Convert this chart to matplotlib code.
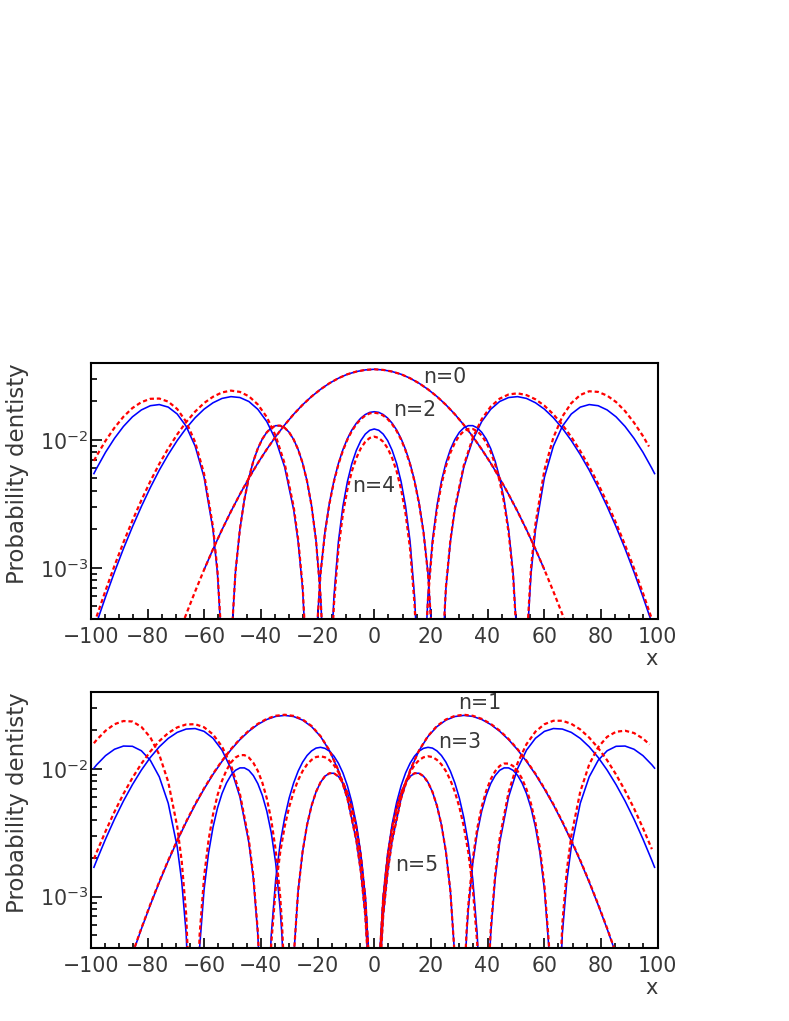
import numpy as np
import matplotlib
matplotlib.use("Agg")
import matplotlib.pyplot as plt
from matplotlib.ticker import MultipleLocator, LogLocator, NullFormatter, FixedFormatter, FixedLocator

# curves: (x, log10 of probability density)
n0_blue = [(-60.0,-3.011),(-56.92,-2.854),(-53.75,-2.702),(-50.59,-2.559),(-47.43,-2.425),(-44.27,-2.299),(-41.11,-2.181),(-37.94,-2.073),(-34.78,-1.973),(-31.62,-1.882),(-28.46,-1.799),(-25.30,-1.725),(-22.13,-1.660),(-18.97,-1.604),(-15.81,-1.556),(-12.65,-1.517),(-9.49,-1.486),(-6.32,-1.465),(-3.16,-1.452),(0.0,-1.447),(3.16,-1.452),(6.32,-1.465),(9.49,-1.486),(12.65,-1.517),(15.81,-1.556),(18.97,-1.604),(22.13,-1.660),(25.30,-1.725),(28.46,-1.799),(31.62,-1.882),(34.78,-1.973),(37.94,-2.073),(41.11,-2.181),(44.27,-2.299),(47.43,-2.425),(50.59,-2.559),(53.75,-2.702),(56.92,-2.854),(60.0,-3.011)]
n0_red = [(-69.56,-3.549),(-66.40,-3.363),(-63.24,-3.185),(-60.08,-3.015),(-56.92,-2.854),(-53.75,-2.702),(-50.59,-2.559),(-47.43,-2.425),(-44.27,-2.299),(-41.11,-2.181),(-37.94,-2.073),(-34.78,-1.973),(-31.62,-1.882),(-28.46,-1.799),(-25.30,-1.725),(-22.13,-1.660),(-18.97,-1.604),(-15.81,-1.556),(-12.65,-1.517),(-9.49,-1.486),(-6.32,-1.465),(-3.16,-1.452),(0.0,-1.447),(3.16,-1.452),(6.32,-1.465),(9.49,-1.486),(12.65,-1.517),(15.81,-1.556),(18.97,-1.604),(22.13,-1.660),(25.30,-1.725),(28.46,-1.799),(31.62,-1.882),(34.78,-1.973),(37.94,-2.073),(41.11,-2.181),(44.27,-2.299),(47.43,-2.425),(50.59,-2.559),(53.75,-2.702),(56.92,-2.854),(60.08,-3.015),(63.24,-3.185),(66.40,-3.363),(69.56,-3.549)]

n2_blue = [(-98.02,-3.431),(-94.86,-3.227),(-91.70,-3.033),(-88.54,-2.850),(-85.37,-2.679),(-82.21,-2.520),(-79.05,-2.372),(-75.89,-2.236),(-72.73,-2.114),(-69.56,-2.004),(-66.40,-1.908),(-63.24,-1.826),(-60.08,-1.759),(-56.92,-1.709),(-53.75,-1.675),(-50.59,-1.661),(-47.43,-1.668),(-44.27,-1.699),(-41.11,-1.760),(-37.94,-1.856),(-34.78,-2.000),(-31.62,-2.213),(-28.46,-2.546),(-26.88,-2.796),(-25.30,-3.163),(-23.72,-3.829),
           (-20.55,-3.582),(-18.97,-3.041),(-17.39,-2.717),(-15.81,-2.490),(-14.23,-2.318),(-12.65,-2.183),(-11.07,-2.076),(-9.49,-1.990),(-7.91,-1.922),(-6.32,-1.869),(-4.74,-1.829),(-3.16,-1.801),(-1.58,-1.784),(0.0,-1.779),(1.58,-1.784),(3.16,-1.801),(4.74,-1.829),(6.32,-1.869),(7.91,-1.922),(9.49,-1.990),(11.07,-2.076),(12.65,-2.183),(14.23,-2.318),(15.81,-2.490),(17.39,-2.717),(18.97,-3.041),(20.55,-3.582),
           (23.72,-3.829),(25.30,-3.163),(26.88,-2.796),(28.46,-2.546),(31.62,-2.213),(34.78,-2.000),(37.94,-1.856),(41.11,-1.760),(44.27,-1.699),(47.43,-1.668),(50.59,-1.661),(53.75,-1.675),(56.92,-1.709),(60.08,-1.759),(63.24,-1.826),(66.40,-1.908),(69.56,-2.004),(72.73,-2.114),(75.89,-2.236),(79.05,-2.372),(82.21,-2.520),(85.37,-2.679),(88.54,-2.850),(91.70,-3.033),(94.86,-3.227),(98.02,-3.431)]
n2_red = [(-98.02,-3.381),(-94.86,-3.177),(-91.70,-2.983),(-88.54,-2.801),(-85.37,-2.630),(-82.21,-2.471),(-79.05,-2.323),(-75.89,-2.187),(-72.73,-2.066),(-69.56,-1.956),(-66.40,-1.860),(-63.24,-1.778),(-60.08,-1.711),(-56.92,-1.662),(-53.75,-1.628),(-50.59,-1.614),(-47.43,-1.624),(-44.27,-1.658),(-41.11,-1.722),(-37.94,-1.821),(-34.78,-1.969),(-31.62,-2.185),(-28.46,-2.521),(-26.88,-2.773),(-25.30,-3.141),(-23.72,-3.809),
          (-20.55,-3.590),(-18.97,-3.049),(-17.39,-2.725),(-15.81,-2.498),(-14.23,-2.326),(-12.65,-2.191),(-11.07,-2.084),(-9.49,-1.998),(-7.91,-1.930),(-6.32,-1.877),(-4.74,-1.837),(-3.16,-1.809),(-1.58,-1.792),(0.0,-1.787),(1.58,-1.792),(3.16,-1.809),(4.74,-1.837),(6.32,-1.877),(7.91,-1.930),(9.49,-1.998),(11.07,-2.084),(12.65,-2.191),(14.23,-2.326),(15.81,-2.498),(17.39,-2.725),(18.97,-3.049),(20.55,-3.590),
          (23.72,-3.819),(25.30,-3.152),(26.88,-2.784),(28.46,-2.533),(31.62,-2.198),(34.78,-1.983),(37.94,-1.837),(41.11,-1.739),(44.27,-1.677),(47.43,-1.644),(50.59,-1.635),(53.75,-1.649),(56.92,-1.682),(60.08,-1.732),(63.24,-1.799),(66.40,-1.881),(69.56,-1.976),(72.73,-2.086),(75.89,-2.208),(79.05,-2.343),(82.21,-2.491),(85.37,-2.650),(88.54,-2.821),(91.70,-3.003),(94.86,-3.197),(98.02,-3.401)]

n4_blue = [(-98.97,-2.263),(-98.02,-2.222),(-94.86,-2.096),(-91.70,-1.987),(-88.54,-1.894),(-85.37,-1.819),(-82.21,-1.765),(-79.05,-1.732),(-75.89,-1.723),(-72.73,-1.743),(-69.56,-1.797),(-66.40,-1.893),(-63.24,-2.048),(-60.08,-2.292),(-56.92,-2.704),(-55.34,-3.047),(-53.75,-3.648),
           (-50.59,-3.625),(-49.01,-3.036),(-47.43,-2.698),(-45.85,-2.466),(-44.27,-2.296),(-42.69,-2.166),(-41.11,-2.067),(-39.53,-1.993),(-37.94,-1.940),(-36.36,-1.905),(-34.78,-1.888),(-33.20,-1.888),(-31.62,-1.905),(-30.04,-1.940),(-28.46,-1.996),(-26.88,-2.074),(-25.30,-2.180),(-23.72,-2.322),(-22.13,-2.515),(-20.55,-2.788),(-18.97,-3.217),(-18.02,-3.653),
           (-15.18,-3.667),(-14.23,-3.225),(-12.65,-2.793),(-11.07,-2.519),(-9.49,-2.327),(-7.91,-2.185),(-6.32,-2.081),(-4.74,-2.005),(-3.16,-1.954),(-1.58,-1.924),(0.0,-1.914),(1.58,-1.924),(3.16,-1.954),(4.74,-2.005),(6.32,-2.081),(7.91,-2.185),(9.49,-2.327),(11.07,-2.519),(12.65,-2.793),(14.23,-3.225),(15.18,-3.667),
           (18.02,-3.653),(18.97,-3.217),(20.55,-2.788),(22.13,-2.515),(23.72,-2.322),(25.30,-2.180),(26.88,-2.074),(28.46,-1.996),(30.04,-1.940),(31.62,-1.905),(33.20,-1.888),(34.78,-1.888),(36.36,-1.905),(37.94,-1.940),(39.53,-1.993),(41.11,-2.067),(42.69,-2.166),(44.27,-2.296),(45.85,-2.466),(47.43,-2.698),(49.01,-3.036),(50.59,-3.625),
           (53.75,-3.648),(55.34,-3.047),(56.92,-2.704),(60.08,-2.292),(63.24,-2.048),(66.40,-1.893),(69.56,-1.797),(72.73,-1.743),(75.89,-1.723),(79.05,-1.732),(82.21,-1.765),(85.37,-1.819),(88.54,-1.894),(91.70,-1.987),(94.86,-2.096),(98.02,-2.222),(98.97,-2.263)]
n4_red = [(-98.97,-2.163),(-98.02,-2.124),(-94.86,-2.006),(-91.70,-1.904),(-88.54,-1.818),(-85.37,-1.750),(-82.21,-1.704),(-79.05,-1.678),(-75.89,-1.676),(-72.73,-1.700),(-69.56,-1.758),(-66.40,-1.858),(-63.24,-2.016),(-60.08,-2.264),(-56.92,-2.680),(-55.34,-3.025),(-53.75,-3.628),
          (-50.59,-3.625),(-49.01,-3.036),(-47.43,-2.698),(-45.85,-2.466),(-44.27,-2.296),(-42.69,-2.166),(-41.11,-2.067),(-39.53,-1.993),(-37.94,-1.940),(-36.36,-1.905),(-34.78,-1.888),(-33.20,-1.888),(-31.62,-1.905),(-30.04,-1.940),(-28.46,-1.996),(-26.88,-2.074),(-25.30,-2.180),(-23.72,-2.322),(-22.13,-2.515),(-20.55,-2.788),(-18.97,-3.217),(-18.02,-3.653),
          (-15.18,-3.727),(-14.23,-3.285),(-12.65,-2.853),(-11.07,-2.579),(-9.49,-2.387),(-7.91,-2.245),(-6.32,-2.141),(-4.74,-2.065),(-3.16,-2.014),(-1.58,-1.984),(0.0,-1.974),(1.58,-1.984),(3.16,-2.014),(4.74,-2.065),(6.32,-2.141),(7.91,-2.245),(9.49,-2.387),(11.07,-2.579),(12.65,-2.853),(14.23,-3.285),(15.18,-3.727),
          (18.02,-3.679),(18.97,-3.243),(20.55,-2.814),(22.13,-2.541),(23.72,-2.348),(25.30,-2.206),(26.88,-2.100),(28.46,-2.022),(30.04,-1.966),(31.62,-1.931),(33.20,-1.914),(34.78,-1.914),(36.36,-1.931),(37.94,-1.966),(39.53,-2.019),(41.11,-2.093),(42.69,-2.192),(44.27,-2.322),(45.85,-2.492),(47.43,-2.724),(49.01,-3.062),(50.59,-3.651),
          (53.75,-3.608),(55.34,-3.002),(56.92,-2.655),(60.08,-2.234),(63.24,-1.981),(66.40,-1.817),(69.56,-1.712),(72.73,-1.648),(75.89,-1.619),(79.05,-1.624),(82.21,-1.653),(85.37,-1.703),(88.54,-1.774),(91.70,-1.864),(94.86,-1.969),(97.0,-2.051)]

n1_blue = [(-85.37,-3.450),(-82.21,-3.252),(-79.05,-3.065),(-75.89,-2.887),(-72.73,-2.720),(-69.56,-2.563),(-66.40,-2.417),(-63.24,-2.281),(-60.08,-2.157),(-56.92,-2.043),(-53.75,-1.941),(-50.59,-1.850),(-47.43,-1.771),(-44.27,-1.705),(-41.11,-1.652),(-37.94,-1.613),(-34.78,-1.589),(-31.62,-1.581),(-28.46,-1.590),(-25.30,-1.618),(-22.13,-1.669),(-18.97,-1.746),(-15.81,-1.857),(-12.65,-2.012),(-9.49,-2.231),(-6.32,-2.562),(-4.74,-2.804),(-3.16,-3.151),(-1.58,-3.749),
           (1.58,-3.749),(3.16,-3.151),(4.74,-2.804),(6.32,-2.562),(9.49,-2.231),(12.65,-2.012),(15.81,-1.857),(18.97,-1.746),(22.13,-1.669),(25.30,-1.618),(28.46,-1.590),(31.62,-1.581),(34.78,-1.589),(37.94,-1.613),(41.11,-1.652),(44.27,-1.705),(47.43,-1.771),(50.59,-1.850),(53.75,-1.941),(56.92,-2.043),(60.08,-2.157),(63.24,-2.281),(66.40,-2.417),(69.56,-2.563),(72.73,-2.720),(75.89,-2.887),(79.05,-3.065),(82.21,-3.252),(85.37,-3.450)]
n1_red = [(-85.37,-3.445),(-82.21,-3.247),(-79.05,-3.060),(-75.89,-2.882),(-72.73,-2.715),(-69.56,-2.558),(-66.40,-2.412),(-63.24,-2.276),(-60.08,-2.152),(-56.92,-2.038),(-53.75,-1.936),(-50.59,-1.845),(-47.43,-1.766),(-44.27,-1.700),(-41.11,-1.647),(-37.94,-1.608),(-34.78,-1.584),(-31.62,-1.576),(-28.46,-1.585),(-25.30,-1.613),(-22.13,-1.664),(-18.97,-1.743),(-15.81,-1.855),(-12.65,-2.011),(-9.49,-2.231),(-6.32,-2.562),(-4.74,-2.804),(-3.16,-3.151),(-1.58,-3.749),
          (1.58,-3.749),(3.16,-3.151),(4.74,-2.804),(6.32,-2.562),(9.49,-2.231),(12.65,-2.011),(15.81,-1.855),(18.97,-1.743),(22.13,-1.664),(25.30,-1.613),(28.46,-1.585),(31.62,-1.576),(34.78,-1.584),(37.94,-1.608),(41.11,-1.647),(44.27,-1.700),(47.43,-1.766),(50.59,-1.845),(53.75,-1.936),(56.92,-2.038),(60.08,-2.152),(63.24,-2.276),(66.40,-2.412),(69.56,-2.558),(72.73,-2.715),(75.89,-2.882),(79.05,-3.060),(82.21,-3.247),(85.37,-3.445)]

n3_blue = [(-98.97,-2.770),(-98.02,-2.717),(-94.86,-2.549),(-91.70,-2.393),(-88.54,-2.251),(-85.37,-2.123),(-82.21,-2.009),(-79.05,-1.910),(-75.89,-1.827),(-72.73,-1.761),(-69.56,-1.714),(-66.40,-1.688),(-63.24,-1.684),(-60.08,-1.706),(-56.92,-1.760),(-53.75,-1.853),(-50.59,-1.998),(-47.43,-2.219),(-44.27,-2.578),(-42.69,-2.858),(-41.11,-3.293),(-40.16,-3.732),
           (-37.31,-3.742),(-36.36,-3.299),(-34.78,-2.863),(-33.20,-2.582),(-31.62,-2.381),(-30.04,-2.228),(-28.46,-2.110),(-26.88,-2.018),(-25.30,-1.947),(-23.72,-1.895),(-22.13,-1.859),(-20.55,-1.837),(-18.97,-1.831),(-17.39,-1.839),(-15.81,-1.861),(-14.23,-1.900),(-12.65,-1.956),(-11.07,-2.031),(-9.49,-2.131),(-7.91,-2.261),(-6.32,-2.431),(-4.74,-2.663),(-3.16,-3.003),(-1.58,-3.597),
           (1.58,-3.597),(3.16,-3.003),(4.74,-2.663),(6.32,-2.431),(7.91,-2.261),(9.49,-2.131),(11.07,-2.031),(12.65,-1.956),(14.23,-1.900),(15.81,-1.861),(17.39,-1.839),(18.97,-1.831),(20.55,-1.837),(22.13,-1.859),(23.72,-1.895),(25.30,-1.947),(26.88,-2.018),(28.46,-2.110),(30.04,-2.228),(31.62,-2.381),(33.20,-2.582),(34.78,-2.863),(36.36,-3.299),(37.31,-3.742),
           (40.16,-3.732),(41.11,-3.293),(42.69,-2.858),(44.27,-2.578),(47.43,-2.219),(50.59,-1.998),(53.75,-1.853),(56.92,-1.760),(60.08,-1.706),(63.24,-1.684),(66.40,-1.688),(69.56,-1.714),(72.73,-1.761),(75.89,-1.827),(79.05,-1.910),(82.21,-2.009),(85.37,-2.123),(88.54,-2.251),(91.70,-2.393),(94.86,-2.549),(98.02,-2.717),(98.97,-2.770)]
n3_red = [(-98.97,-2.705),(-98.02,-2.653),(-94.86,-2.488),(-91.70,-2.335),(-88.54,-2.195),(-85.37,-2.070),(-82.21,-1.959),(-79.05,-1.863),(-75.89,-1.782),(-72.73,-1.719),(-69.56,-1.675),(-66.40,-1.652),(-63.24,-1.650),(-60.08,-1.674),(-56.92,-1.730),(-53.75,-1.825),(-50.59,-1.971),(-47.43,-2.194),(-44.27,-2.555),(-42.69,-2.836),(-41.11,-3.272),(-40.16,-3.712),
          (-37.31,-3.812),(-36.36,-3.369),(-34.78,-2.933),(-33.20,-2.652),(-31.62,-2.451),(-30.04,-2.298),(-28.46,-2.180),(-26.88,-2.088),(-25.30,-2.017),(-23.72,-1.965),(-22.13,-1.929),(-20.55,-1.907),(-18.97,-1.901),(-17.39,-1.909),(-15.81,-1.931),(-14.23,-1.970),(-12.65,-2.026),(-11.07,-2.101),(-9.49,-2.201),(-7.91,-2.331),(-6.32,-2.501),(-4.74,-2.733),(-3.16,-3.073),(-1.58,-3.667),
          (1.58,-3.667),(3.16,-3.073),(4.74,-2.733),(6.32,-2.501),(7.91,-2.331),(9.49,-2.201),(11.07,-2.101),(12.65,-2.026),(14.23,-1.970),(15.81,-1.931),(17.39,-1.909),(18.97,-1.901),(20.55,-1.907),(22.13,-1.929),(23.72,-1.965),(25.30,-2.017),(26.88,-2.088),(28.46,-2.180),(30.04,-2.298),(31.62,-2.451),(33.20,-2.652),(34.78,-2.933),(36.36,-3.369),(37.31,-3.812),
          (40.16,-3.702),(41.11,-3.262),(42.69,-2.826),(44.27,-2.544),(47.43,-2.181),(50.59,-1.955),(53.75,-1.806),(56.92,-1.708),(60.08,-1.650),(63.24,-1.623),(66.40,-1.623),(69.56,-1.647),(72.73,-1.691),(75.89,-1.755),(79.05,-1.836),(82.21,-1.932),(85.37,-2.044),(88.54,-2.170),(91.70,-2.309),(94.86,-2.463),(98.02,-2.628)]

n5_blue = [(-98.97,-1.994),(-98.02,-1.968),(-94.86,-1.896),(-91.70,-1.846),(-88.54,-1.821),(-85.37,-1.823),(-82.21,-1.858),(-79.05,-1.933),(-75.89,-2.062),(-72.73,-2.269),(-69.56,-2.611),(-67.98,-2.879),(-66.40,-3.291),(-64.82,-4.141),
           (-63.24,-4.480),(-61.66,-3.402),(-60.08,-2.945),(-58.50,-2.658),(-56.92,-2.456),(-55.34,-2.306),(-53.75,-2.193),(-52.17,-2.110),(-50.59,-2.050),(-49.01,-2.011),(-47.43,-1.992),(-45.85,-1.992),(-44.27,-2.011),(-42.69,-2.052),(-41.11,-2.115),(-39.53,-2.206),(-37.94,-2.330),(-36.36,-2.500),(-34.78,-2.739),(-33.20,-3.101),(-32.57,-3.311),(-31.62,-3.779),
           (-28.46,-3.481),(-26.88,-2.957),(-25.30,-2.648),(-23.72,-2.438),(-22.13,-2.288),(-20.55,-2.180),(-18.97,-2.105),(-17.39,-2.057),(-15.81,-2.034),(-14.23,-2.034),(-12.65,-2.059),(-11.07,-2.108),(-9.49,-2.186),(-7.91,-2.298),(-6.32,-2.455),(-4.74,-2.676),(-3.16,-3.008),(-1.58,-3.599),
           (1.58,-3.599),(3.16,-3.008),(4.74,-2.676),(6.32,-2.455),(7.91,-2.298),(9.49,-2.186),(11.07,-2.108),(12.65,-2.059),(14.23,-2.034),(15.81,-2.034),(17.39,-2.057),(18.97,-2.105),(20.55,-2.180),(22.13,-2.288),(23.72,-2.438),(25.30,-2.648),(26.88,-2.957),(28.46,-3.481),
           (31.62,-3.779),(32.57,-3.311),(33.20,-3.101),(34.78,-2.739),(36.36,-2.500),(37.94,-2.330),(39.53,-2.206),(41.11,-2.115),(42.69,-2.052),(44.27,-2.011),(45.85,-1.992),(47.43,-1.992),(49.01,-2.011),(50.59,-2.050),(52.17,-2.110),(53.75,-2.193),(55.34,-2.306),(56.92,-2.456),(58.50,-2.658),(60.08,-2.945),(61.66,-3.402),(63.24,-4.480),
           (64.82,-4.141),(66.40,-3.291),(67.98,-2.879),(69.56,-2.611),(72.73,-2.269),(75.89,-2.062),(79.05,-1.933),(82.21,-1.858),(85.37,-1.823),(88.54,-1.821),(91.70,-1.846),(94.86,-1.896),(98.02,-1.968),(98.97,-1.994)]
n5_red = [(-98.97,-1.799),(-98.02,-1.773),(-94.86,-1.701),(-91.70,-1.650),(-88.54,-1.625),(-85.37,-1.629),(-82.21,-1.671),(-79.05,-1.753),(-75.89,-1.889),(-72.73,-2.102),(-69.56,-2.451),(-67.98,-2.722),(-66.40,-3.138),(-64.82,-3.991),
          (-63.24,-4.380),(-61.66,-3.302),(-60.08,-2.845),(-58.50,-2.558),(-56.92,-2.356),(-55.34,-2.206),(-53.75,-2.093),(-52.17,-2.010),(-50.59,-1.950),(-49.01,-1.911),(-47.43,-1.892),(-45.85,-1.892),(-44.27,-1.911),(-42.69,-1.952),(-41.11,-2.015),(-39.53,-2.106),(-37.94,-2.230),(-36.36,-2.400),(-34.78,-2.639),(-33.20,-3.001),(-32.57,-3.211),(-31.62,-3.679),
          (-28.46,-3.481),(-26.88,-2.957),(-25.30,-2.648),(-23.72,-2.438),(-22.13,-2.288),(-20.55,-2.180),(-18.97,-2.105),(-17.39,-2.057),(-15.81,-2.034),(-14.23,-2.034),(-12.65,-2.059),(-11.07,-2.108),(-9.49,-2.186),(-7.91,-2.298),(-6.32,-2.455),(-4.74,-2.676),(-3.16,-3.008),(-1.58,-3.599),
          (1.58,-3.599),(3.16,-3.008),(4.74,-2.676),(6.32,-2.455),(7.91,-2.298),(9.49,-2.186),(11.07,-2.108),(12.65,-2.059),(14.23,-2.034),(15.81,-2.034),(17.39,-2.057),(18.97,-2.105),(20.55,-2.180),(22.13,-2.288),(23.72,-2.438),(25.30,-2.648),(26.88,-2.957),(28.46,-3.481),
          (31.62,-3.745),(32.57,-3.277),(33.20,-3.067),(34.78,-2.705),(36.36,-2.466),(37.94,-2.296),(39.53,-2.172),(41.11,-2.081),(42.69,-2.018),(44.27,-1.977),(45.85,-1.958),(47.43,-1.958),(49.01,-1.977),(50.59,-2.016),(52.17,-2.076),(53.75,-2.159),(55.34,-2.272),(56.92,-2.422),(58.50,-2.624),(60.08,-2.911),(61.66,-3.368),(63.24,-4.446),
          (64.82,-4.061),(66.40,-3.211),(67.98,-2.796),(69.56,-2.525),(72.73,-2.178),(75.89,-1.965),(79.05,-1.830),(82.21,-1.749),(85.37,-1.709),(88.54,-1.701),(91.70,-1.719),(94.86,-1.762),(97.2,-1.809)]

top_curves = [(n0_blue, n0_red), (n2_blue, n2_red), (n4_blue, n4_red)]
bottom_curves = [(n1_blue, n1_red), (n3_blue, n3_red), (n5_blue, n5_red)]
top_labels = [("n=0", 445, 377), ("n=2", 415, 410), ("n=4", 374, 486)]
bottom_labels = [("n=1", 480, 703), ("n=3", 460, 742), ("n=5", 417, 865)]
x_ticks = [-100, -80, -60, -40, -20, 0, 20, 40, 60, 80, 100]

W, H = 789, 1021
TXT = "#383838"
fig = plt.figure(figsize=(W / 100, H / 100), dpi=100)


def curve(ax, pairs, **kw):
    x, lg = zip(*pairs)
    ax.plot(x, 10.0 ** np.array(lg), **kw)


def panel(rect, curves, labels, ylab_top):
    ax = fig.add_axes(rect)
    for blue, red in curves:
        curve(ax, blue, color="#0000ff", lw=1.15, solid_joinstyle="round")
    for blue, red in curves:
        curve(ax, red, color="#ff0000", lw=1.6, dashes=(1.9, 1.3))
    ax.set_yscale("log")
    ax.set_xlim(-100, 100)
    ax.set_ylim(4e-4, 4e-2)
    ax.xaxis.set_major_locator(FixedLocator(x_ticks))
    ax.xaxis.set_major_formatter(FixedFormatter([str(t).replace("-", "\u2212") for t in x_ticks]))
    ax.xaxis.set_minor_locator(MultipleLocator(5))
    ax.yaxis.set_major_locator(FixedLocator([1e-3, 1e-2]))
    ax.yaxis.set_major_formatter(FixedFormatter([r"$10^{-3}$", r"$10^{-2}$"]))
    ax.yaxis.set_minor_locator(LogLocator(base=10, subs=np.arange(2, 10)))
    ax.yaxis.set_minor_formatter(NullFormatter())
    ax.tick_params(which="both", direction="in", top=False, right=False, colors="black",
                   labelcolor=TXT, width=1.2)
    ax.tick_params(axis="x", which="major", length=7.5, pad=6, labelsize=14.8)
    ax.tick_params(axis="x", which="minor", length=3.8)
    ax.tick_params(axis="y", which="major", length=8, pad=2, labelsize=14.8)
    ax.tick_params(axis="y", which="minor", length=4.2)
    for s in ax.spines.values():
        s.set_linewidth(1.5)
    for txt, px, py in labels:
        fig.text(px / W, 1 - py / H, txt, ha="center", va="center", fontsize=14.8, color=TXT)
    fig.text(18 / W, 1 - ylab_top / H, "Probability dentisty", rotation=90, ha="center",
             va="top", fontsize=16.5, color=TXT)
    bottom = rect[1]
    fig.text(652 / W, bottom - 40 / H, "x", ha="center", va="center", fontsize=15, color=TXT)
    return ax


panel([91 / W, 1 - 618.7 / H, 566.5 / W, 255.7 / H], top_curves, top_labels, 363)
panel([91 / W, 1 - 947.5 / H, 566.5 / W, 255.5 / H], bottom_curves, bottom_labels, 692)

fig.savefig("out.png", dpi=100, facecolor="white")
